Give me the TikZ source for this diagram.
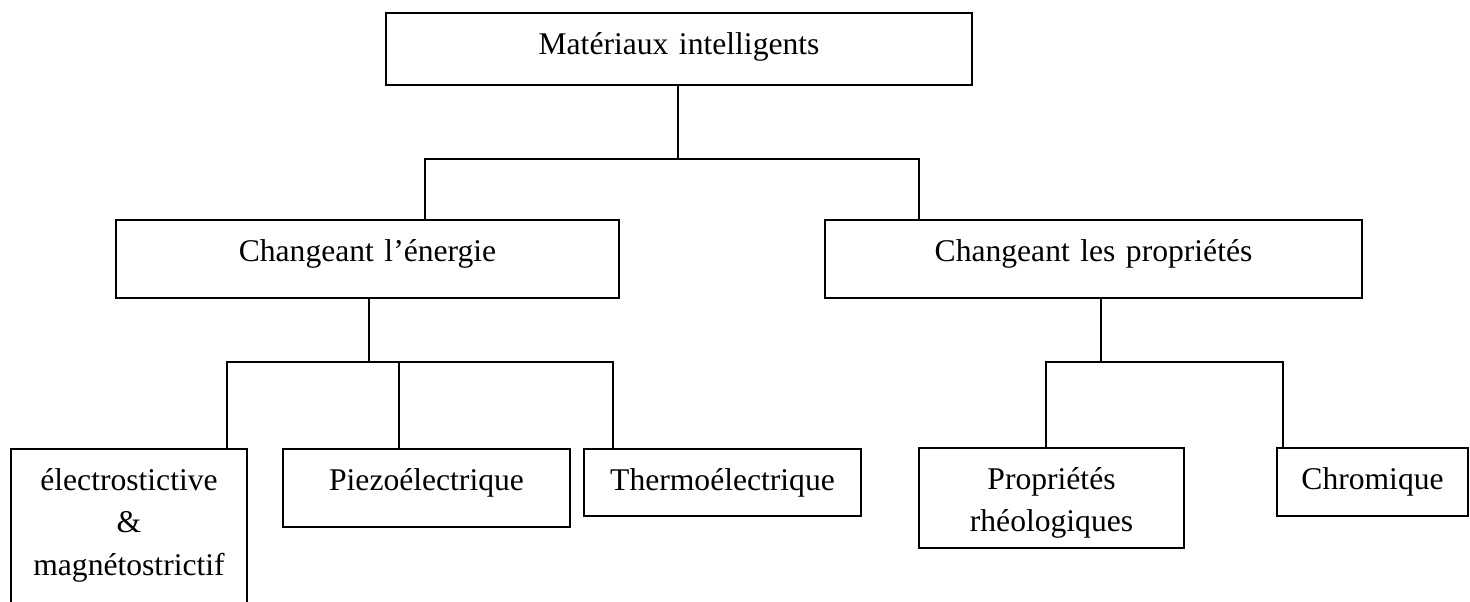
\documentclass[tikz,border=0pt]{standalone}
\usepackage{fontspec}
\setmainfont{Liberation Serif}

\begin{document}
\begin{tikzpicture}[x=0.5pt,y=-0.5pt,line width=1pt,
  box node/.style={draw,rectangle,anchor=north west,inner sep=0pt,align=center,
    text height=20.5pt,font=\fontsize{15.8}{21.3}\selectfont}]
  \clip (0,0) rectangle (1470,601);

  \node[box node, text width=293pt, text depth=15.5pt] (m) at (385,12) {Matériaux intelligents};
  \node[box node, text width=251.5pt, text depth=18.5pt] (ce) at (115,219) {Changeant l’énergie};
  \node[box node, text width=268.5pt, text depth=18.5pt] (cp) at (824,219) {Changeant les propriétés};
  \node[box node, text width=118pt, text depth=63pt] (em) at (10,448) {électrostictive\\ \&\\ magnétostrictif};
  \node[box node, text width=143.5pt, text depth=18.5pt] (pz) at (282,448) {Piezoélectrique};
  \node[box node, text width=138.5pt, text depth=13pt] (th) at (583,448) {Thermoélectrique};
  \node[box node, text width=132.5pt, text depth=29.5pt] (rh) at (918,447) {Propriétés\\ rhéologiques};
  \node[box node, text width=95.5pt, text depth=13.5pt] (ch) at (1276,447) {Chromique};

  % branch points
  \coordinate (j0) at (678,159);
  \coordinate (j1) at (425,159);
  \coordinate (j2) at (919,159);
  \coordinate (k0) at (369,362);
  \coordinate (k1) at (227,362);
  \coordinate (k2) at (399,362);
  \coordinate (k3) at (613,362);
  \coordinate (r0) at (1101,362);
  \coordinate (r1) at (1046,362);
  \coordinate (r2) at (1283,362);

  \draw (m.south -| j0) -- (j0);
  \draw (j1 |- ce.north) -- (j1) -- (j2) -- (j2 |- cp.north);
  \draw (ce.south -| k0) -- (k0);
  \draw (k1 |- em.north) -- (k1) -- (k3) -- (k3 |- th.north);
  \draw (k2) -- (k2 |- pz.north);
  \draw (cp.south -| r0) -- (r0);
  \draw (r1 |- rh.north) -- (r1) -- (r2) -- (r2 |- ch.north);
\end{tikzpicture}
\end{document}
